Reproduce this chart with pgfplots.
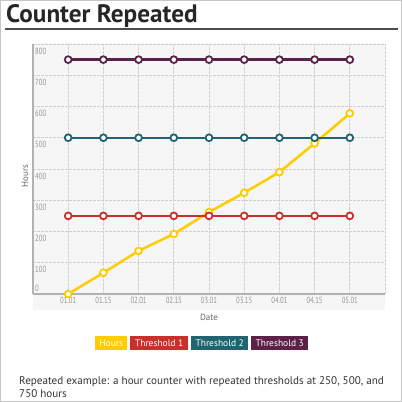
\documentclass[border=0pt]{standalone}
\usepackage{fontspec}
\setmainfont{PT Sans}
\usepackage{graphicx}
\usepackage{pgfplots}
\pgfplotsset{compat=1.18}
\definecolor{cHours}{HTML}{FFCC00}
\definecolor{cT1}{HTML}{C9302C}
\definecolor{cT2}{HTML}{1F6470}
\definecolor{cT3}{HTML}{5B2148}
\definecolor{tickgray}{HTML}{959595}
\definecolor{gridgray}{HTML}{D0D0D0}
\definecolor{bggray}{HTML}{F6F6F6}
\newcommand\nl[1]{\scalebox{0.75}[1]{#1}}
\begin{document}
\begin{tikzpicture}[x=1bp,y=1bp]
\useasboundingbox (0,0) rectangle (402,402);
\draw[line width=1.5bp, draw=gray!45] (0.75,0.75) rectangle (401.25,401.25);
% title
\node[anchor=base west, inner sep=0, text=black!85, font=\fontsize{25.3}{27}\selectfont\bfseries] at (6,380) {Counter Repeated};
\draw[line width=2bp, draw=black!70] (5,372.5) -- (398,372.5);
% plot background
\fill[bggray] (33,92) rectangle (385,359);
\begin{axis}[
  at={(33bp,108bp)}, anchor=south west,
  scale only axis, width=352bp, height=250bp,
  xmin=-1, xmax=9, ymin=0, ymax=800,
  axis x line*=bottom, axis y line*=left,
  axis line style={-, draw=gray!60, line width=1.2bp},
  xtick={-1,...,9},
  xticklabels={,\nl{01.01},\nl{01.15},\nl{02.01},\nl{02.15},\nl{03.01},\nl{03.15},\nl{04.01},\nl{04.15},\nl{05.01},},
  ytick={100,200,...,800},
  yticklabels={\nl{100},\nl{200},\nl{300},\nl{400},\nl{500},\nl{600},\nl{700},\nl{800}},
  major tick length=0,
  tick label style={font=\fontsize{9}{10}\selectfont, text=tickgray},
  xticklabel style={inner sep=1bp, yshift=-2bp},
  yticklabel style={anchor=north west, inner sep=1bp, xshift=1bp, yshift=-2.5bp},
  grid=major,
  major grid style={draw=gridgray, dash pattern=on 2.5bp off 1.5bp, line width=0.8bp},
  xlabel={Date}, ylabel={Hours},
  label style={font=\fontsize{9}{10}\selectfont, text=black!60},
  xlabel style={at={(axis description cs:0.5,0)}, anchor=center, yshift=-23bp},
  ylabel style={at={(axis description cs:-0.0227,0.472)}, anchor=center},
  clip=false,
]
\addplot[cHours, line width=2.5bp, mark=*, mark size=3.4bp, mark options={fill=white, draw=cHours, line width=1.8bp}]
  coordinates {(0,0) (1,68) (2,138) (3,192) (4,262) (5,324) (6,390) (7,482) (8,578)};
\addplot[cT1, line width=2.5bp, mark=*, mark size=3.4bp, mark options={fill=white, draw=cT1, line width=1.8bp}]
  coordinates {(0,250) (1,250) (2,250) (3,250) (4,250) (5,250) (6,250) (7,250) (8,250)};
\addplot[cT2, line width=2.5bp, mark=*, mark size=3.4bp, mark options={fill=white, draw=cT2, line width=1.8bp}]
  coordinates {(0,500) (1,500) (2,500) (3,500) (4,500) (5,500) (6,500) (7,500) (8,500)};
\addplot[cT3, line width=2.5bp, mark=*, mark size=3.4bp, mark options={fill=white, draw=cT3, line width=1.8bp}]
  coordinates {(0,750) (1,750) (2,750) (3,750) (4,750) (5,750) (6,750) (7,750) (8,750)};
\node[anchor=south west, inner sep=1bp, xshift=1bp, yshift=1bp, text=tickgray, font=\fontsize{9}{10}\selectfont] at (axis cs:-1,0) {\nl{0}};
\end{axis}
% legend
\tikzset{lg/.style={anchor=west, inner sep=0, minimum height=14bp, text=white, font=\fontsize{9.5}{10}\selectfont}}
\node[lg, fill=cHours, minimum width=32bp] at (95,59) {Hours};
\node[lg, fill=cT1, minimum width=58bp] at (130,59) {Threshold 1};
\node[lg, fill=cT2, minimum width=57bp] at (191,59) {Threshold 2};
\node[lg, fill=cT3, minimum width=57bp] at (251,59) {Threshold 3};
% caption
\node[anchor=base west, inner sep=0, text=black!80, font=\fontsize{11.15}{12}\selectfont] at (19,18) {Repeated example: a hour counter with repeated thresholds at 250, 500, and};
\node[anchor=base west, inner sep=0, text=black!80, font=\fontsize{11.15}{12}\selectfont] at (19,5) {750 hours};
\end{tikzpicture}
\end{document}
